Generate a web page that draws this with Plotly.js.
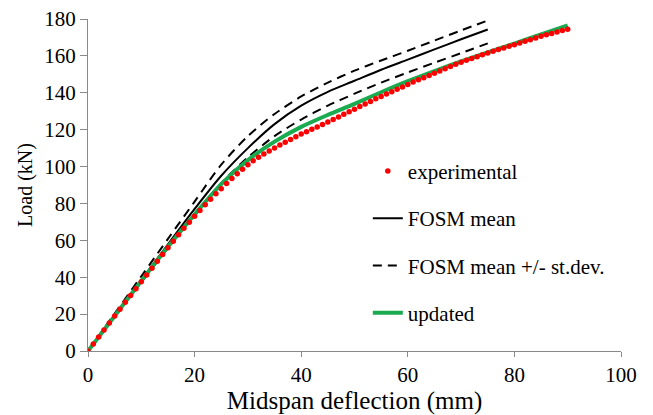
<!DOCTYPE html>
<html>
<head>
<meta charset="utf-8">
<script src="https://cdn.plot.ly/plotly-3.0.1.min.js"></script>
<style>html,body{margin:0;padding:0;background:#fff}#chart{width:653px;height:415px}</style>
</head>
<body>
<div id="chart"></div>
<script>
// Experimental: one reading per mm of midspan deflection
var expDeflection = [0,1,2,3,4,5,6,7,8,9,10,11,12,13,14,15,16,17,18,19,20,21,22,23,24,25,26,27,28,29,30,31,32,33,34,35,36,37,38,39,40,41,42,43,44,45,46,47,48,49,50,51,52,53,54,55,56,57,58,59,60,61,62,63,64,65,66,67,68,69,70,71,72,73,74,75,76,77,78,79,80,81,82,83,84,85,86,87,88,89,90];
var expLoad = [0,3.8,7.6,11.4,15.2,19,22.7,26.4,30.1,33.8,37.5,41.2,44.9,48.6,52.3,56,59.5,63,66.5,69.8,73,76.2,79.3,82.3,85.2,88,90.8,93.5,96.1,98.6,101,103.1,105,106.8,108.5,110.1,111.7,113.2,114.7,116.2,117.6,118.9,120.2,121.5,122.8,124.1,125.5,126.9,128.3,129.7,131.1,132.5,133.9,135.3,136.7,138,139.3,140.6,141.9,143.2,144.5,145.8,147,148.2,149.4,150.6,151.8,153,154.2,155.4,156.5,157.6,158.6,159.6,160.6,161.6,162.5,163.4,164.3,165.2,166.1,167,167.9,168.8,169.7,170.6,171.4,172.2,173,173.7,174.4];

// FOSM curves
var fosmDeflection = [0,5,10,15,20,25,30,35,40,45,50,55,60,65,70,75];
var fosmMean  = [0,19.3,38.5,57.8,77,95,110,123,133,140.5,146.5,152.5,158,163.5,169,174.3];
var fosmUpper = [0,20.3,40.5,60.8,81,101,116.5,128.5,138,145.5,152,157.5,162.8,168.3,173.8,179.2];
var fosmLower = [0,18.6,37.3,55.8,74,91,105,116.5,125.5,133,139.5,145.5,151,156.3,161.5,166.8];

// Updated model
var updDeflection = [0,5,10,15,20,25,30,35,40,45,50,55,60,65,70,75,80,85,90];
var updLoad = [0,19,38,56.5,74,90.5,103.5,113.5,121.5,128,134,140.3,146.3,151.8,157,161.9,166.7,171.6,176.5];

var font = "Times New Roman, Liberation Serif, serif";
var dash = "9px,6px";

var traces = [
  {x: fosmDeflection, y: fosmUpper, type:'scatter', mode:'lines', name:'FOSM mean +/- st.dev.', legendgroup:'c', legendrank:3,
   line:{color:'#000', width:2, dash:dash, shape:'spline', smoothing:0.8}},
  {x: fosmDeflection, y: fosmLower, type:'scatter', mode:'lines', name:'FOSM mean +/- st.dev.', legendgroup:'c', legendrank:3, showlegend:false,
   line:{color:'#000', width:2, dash:dash, shape:'spline', smoothing:0.8}},
  {x: fosmDeflection, y: fosmMean, type:'scatter', mode:'lines', name:'FOSM mean', legendgroup:'b', legendrank:2,
   line:{color:'#000', width:2, shape:'spline', smoothing:0.8}},
  {x: updDeflection, y: updLoad, type:'scatter', mode:'lines', name:'updated', legendgroup:'d', legendrank:4,
   line:{color:'#1aaa4f', width:4, shape:'spline', smoothing:0.8}},
  {x: expDeflection, y: expLoad, type:'scatter', mode:'markers', name:'experimental', legendgroup:'a', legendrank:1,
   marker:{color:'#ff0000', size:5.5}}
];

var axisCommon = {
  showgrid:false, zeroline:false, showline:true, linecolor:'#898989', linewidth:1,
  ticks:'outside', ticklen:5, tickcolor:'#898989', tickwidth:1,
  tickfont:{family:font, size:21, color:'#000'}
};

var layout = {
  width:653, height:415,
  margin:{l:88, r:32, t:19, b:64},
  paper_bgcolor:'#fff', plot_bgcolor:'#fff',
  font:{family:font, color:'#000'},
  showlegend:true,
  legend:{x:0.525, y:0.603, xanchor:'left', yanchor:'top', bgcolor:'rgba(0,0,0,0)',
          font:{family:font, size:21, color:'#000'}, tracegroupgap:17, traceorder:'grouped'},
  xaxis: Object.assign({}, axisCommon, {range:[0,100], dtick:20, tick0:0,
          title:{text:'Midspan deflection (mm)', font:{family:font, size:25, color:'#000'}, standoff:5}}),
  yaxis: Object.assign({}, axisCommon, {range:[0,180], dtick:20, tick0:0, ticklen:7,
          title:{text:'Load (kN)', font:{family:font, size:20, color:'#000'}, standoff:6}})
};

Plotly.newPlot('chart', traces, layout, {displayModeBar:false, staticPlot:true});
</script>
</body>
</html>
